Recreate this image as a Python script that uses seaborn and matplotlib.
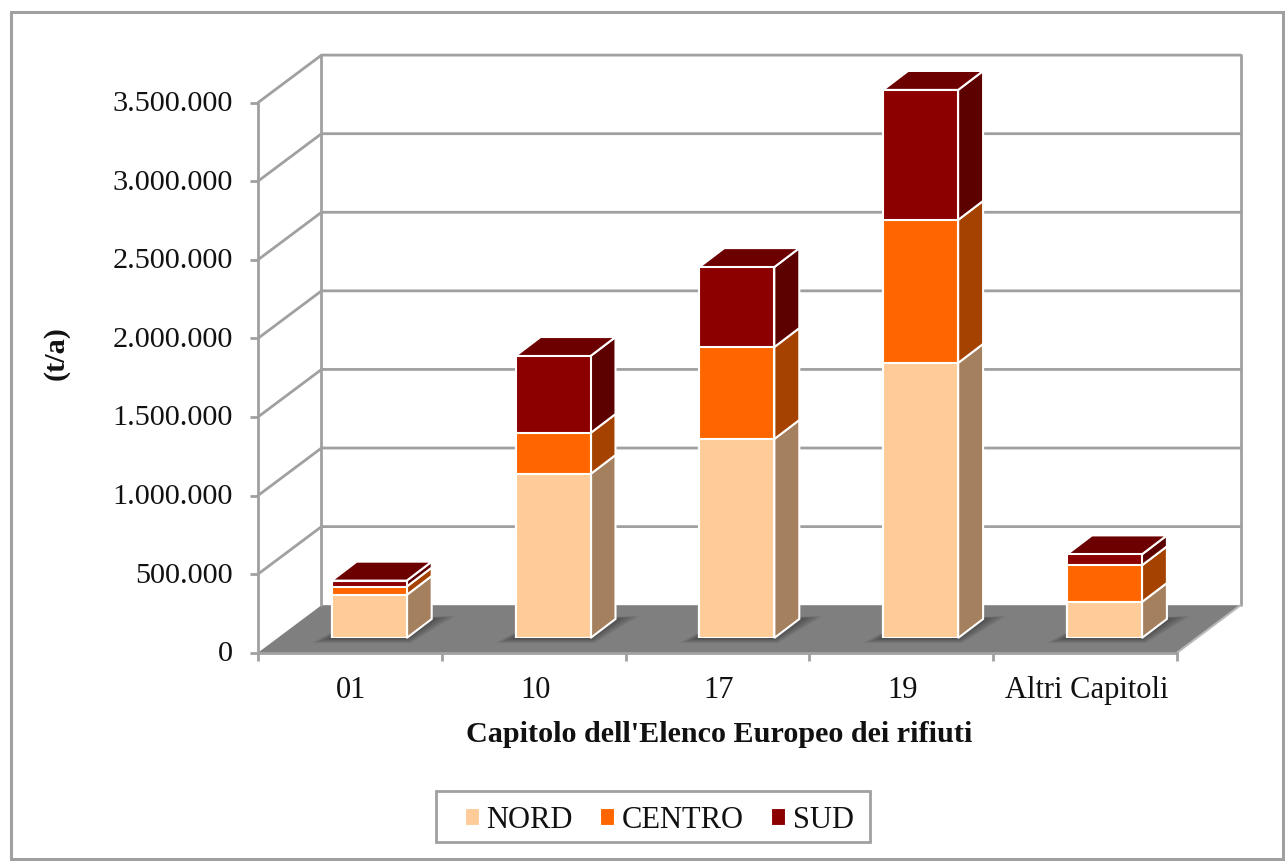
import matplotlib
matplotlib.use("Agg")
import matplotlib.pyplot as plt
import pandas as pd
import seaborn as sns
from matplotlib.patches import Patch, Rectangle
from matplotlib.ticker import FuncFormatter
from matplotlib.transforms import ScaledTranslation

# data (t/a)
CAPITOLI = ["01", "10", "17", "19", "Altri Capitoli"]
NORD     = [274000, 1043000, 1266000, 1750000, 229000]
CENTRO   = [53000, 261000, 585000, 910000, 233000]
SUD      = [38000, 490000, 509000, 827000, 70000]
REGIONI  = ["NORD", "CENTRO", "SUD"]
Y_TICKS  = [0, 500000, 1000000, 1500000, 2000000, 2500000, 3000000, 3500000]

COLORS = {"NORD": "#FFCC99", "CENTRO": "#FF6600", "SUD": "#8C0000"}
SIDES  = {"NORD": "#A5805F", "CENTRO": "#A64200", "SUD": "#5C0000"}
TOP    = "#6C0000"
GRAY   = "#A0A0A0"
FLOOR  = "#7F7F7F"

# layout in pixels
W, H = 1285, 861
X0, X1 = 258.0, 1177.0
Y0, Y1 = 652.7, 102.6
CAT_PX = (X1 - X0) / len(CAPITOLI)
VAL_PX = (Y0 - Y1) / 3500000


def dx(px):
    return px / CAT_PX


def dy(px):
    return px / VAL_PX


def axes_rect(shift_x=0.0, shift_y=0.0):
    return [(X0 + shift_x) / W, (H - Y0 + shift_y) / H, (X1 - X0) / W, (Y0 - Y1) / H]


sns.set_theme(style="white")
plt.rcParams["font.family"] = ["Liberation Serif", "DejaVu Serif"]

df = pd.DataFrame({"capitolo": CAPITOLI, "NORD": NORD, "CENTRO": CENTRO, "SUD": SUD})
long_df = df.melt(id_vars="capitolo", value_vars=REGIONI, var_name="regione", value_name="valore")
long_df["regione"] = pd.Categorical(long_df["regione"], REGIONI, ordered=True)
long_df = long_df.sort_values(["capitolo", "regione"])
long_df["cima"] = long_df.groupby("capitolo", observed=True)["valore"].cumsum()
long_df["base"] = long_df["cima"] - long_df["valore"]

fig = plt.figure(figsize=(W / 100, H / 100), dpi=100, facecolor="white")
fig.add_artist(Rectangle((11 / W, 1 - 859 / H), 1272 / W, 847 / H, transform=fig.transFigure,
                         fill=False, edgecolor=GRAY, linewidth=2.2))

# ---------------------------------------------------------------------------
# Walls, floor and axes
# ---------------------------------------------------------------------------
ax = fig.add_axes(axes_rect())
ax.set_xlim(-0.5, len(CAPITOLI) - 0.5)
ax.set_ylim(0, 3500000)
ax.patch.set_visible(False)

wall_dx, wall_dy = dx(63.5), dy(47.5)
left, right = -0.5, len(CAPITOLI) - 0.5
ax.fill([left, right, right + wall_dx, left + wall_dx], [0, 0, wall_dy, wall_dy],
        color=FLOOR, linewidth=0, clip_on=False, zorder=1)
for tick in Y_TICKS:
    if tick > 0:
        ax.plot([left, left + wall_dx, right + wall_dx], [tick, tick + wall_dy, tick + wall_dy],
                color=GRAY, lw=2, clip_on=False, zorder=2, solid_joinstyle="miter")
for x_wall in (left + wall_dx, right + wall_dx):
    ax.plot([x_wall, x_wall], [wall_dy, 3500000 + wall_dy], color=GRAY, lw=2, clip_on=False, zorder=2)
ax.plot([right, right + wall_dx], [0, wall_dy], color="#B8B8B8", lw=1.5, clip_on=False, zorder=2)

sns.despine(ax=ax, top=True, right=True)
for side in ("left", "bottom"):
    ax.spines[side].set_color(GRAY)
    ax.spines[side].set_linewidth(2)

ax.set_yticks(Y_TICKS)
ax.yaxis.set_major_formatter(FuncFormatter(lambda v, _: f"{int(v):,}".replace(",", ".")))
ax.set_xticks(range(len(CAPITOLI)))
ax.set_xticklabels(CAPITOLI)
ax.set_xticks([i - 0.5 for i in range(len(CAPITOLI) + 1)], minor=True)
ax.tick_params(axis="y", length=5.5, width=2, color=GRAY, labelsize=21.8, labelcolor="#111111", pad=12.5, left=True)
ax.tick_params(axis="x", which="major", length=0, labelsize=22, labelcolor="#111111", pad=16.8)
ax.tick_params(axis="x", which="minor", length=6, width=2, color=GRAY, bottom=True)

# nudge tick labels by a pixel or two to sit where the reference has them
for lab in ax.get_yticklabels():
    lab.set_transform(lab.get_transform() + ScaledTranslation(0, 1.5 / 100, fig.dpi_scale_trans))
for lab in ax.get_xticklabels():
    lab.set_transform(lab.get_transform() + ScaledTranslation(1.5 / 100, 0, fig.dpi_scale_trans))

ax.set_xlabel("Capitolo dell'Elenco Europeo dei rifiuti", fontsize=21.7, fontweight="bold", color="#111111")
ax.xaxis.set_label_coords((719 - X0) / (X1 - X0), -(734 - Y0) / (Y0 - Y1), transform=ax.transAxes)
ax.xaxis.label.set_verticalalignment("center")
ax.set_ylabel("(t/a)", fontsize=21.7, fontweight="bold", color="#111111")
ax.yaxis.set_label_coords((56 - X0) / (X1 - X0), (Y0 - 353) / (Y0 - Y1), transform=ax.transAxes)
ax.yaxis.label.set_verticalalignment("center")

# ---------------------------------------------------------------------------
# Bars: same scales, moved into the middle of the floor
# ---------------------------------------------------------------------------
bar_ax = fig.add_axes(axes_rect(19.3, 14.7))
bar_width = 75 / CAT_PX
sns.barplot(data=long_df, x="capitolo", y="cima", hue="regione", order=CAPITOLI,
            hue_order=REGIONI[::-1], palette=COLORS, dodge=False, width=bar_width,
            saturation=1, edgecolor="white", linewidth=1.5, legend=False, ax=bar_ax, zorder=5)
bar_ax.set_xlim(-0.5, len(CAPITOLI) - 0.5)
bar_ax.set_ylim(0, 3500000)
bar_ax.axis("off")

depth_x, depth_y = dx(25), dy(19)
half = bar_width / 2

for i, name in enumerate(CAPITOLI):
    # soft shadow on the floor
    for k in range(8):
        grow = (8 - k) / 8
        xs = [i - half - dx(20 * grow), i + half + dx(4 * grow), i + half + depth_x + dx(24 * grow),
              i - half + depth_x]
        ys = [-dy(5 * grow), -dy(5 * grow), depth_y + dy(3 * grow), depth_y]
        bar_ax.fill(xs, ys, color="black", alpha=0.05, linewidth=0, clip_on=False, zorder=1)

    rows = long_df[long_df["capitolo"] == name]
    for _, row in rows.iterrows():
        bar_ax.fill([i + half, i + half + depth_x, i + half + depth_x, i + half],
                    [row["base"], row["base"] + depth_y, row["cima"] + depth_y, row["cima"]],
                    facecolor=SIDES[row["regione"]], edgecolor="white", linewidth=1.5,
                    clip_on=False, zorder=4)
    top = rows["cima"].max()
    bar_ax.fill([i - half, i + half, i + half + depth_x, i - half + depth_x],
                [top, top, top + depth_y, top + depth_y],
                facecolor=TOP, edgecolor="white", linewidth=1.5, clip_on=False, zorder=4)

# ---------------------------------------------------------------------------
# Legend
# ---------------------------------------------------------------------------
fig.add_artist(Rectangle((436 / W, 1 - 842 / H), 434 / W, 51 / H, transform=fig.transFigure,
                         facecolor="white", edgecolor=GRAY, linewidth=2))
handles = [Patch(facecolor=COLORS[r], edgecolor="white", linewidth=0.8, label=r) for r in REGIONI]
fig.legend(handles=handles, loc="center left", bbox_to_anchor=(465 / W, 1 - 820 / H), ncol=3,
           fontsize=22, frameon=False, handlelength=0.45, handleheight=0.45, handletextpad=0.25,
           columnspacing=0.9, borderpad=0, borderaxespad=0, labelcolor="#111111")

fig.savefig("out.png", dpi=100, facecolor="white")
